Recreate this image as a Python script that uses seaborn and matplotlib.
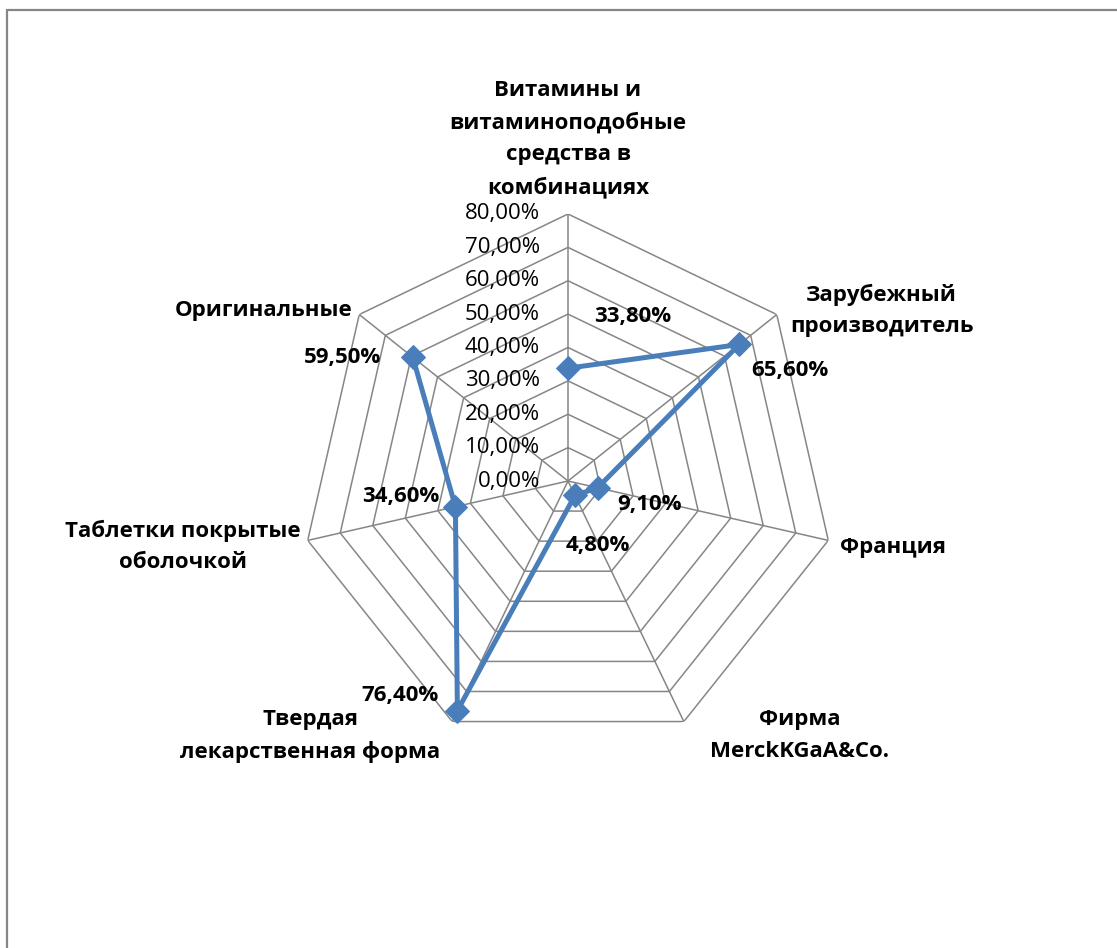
import numpy as np
import pandas as pd
import matplotlib
matplotlib.use("Agg")
import matplotlib.pyplot as plt
from matplotlib.lines import Line2D
import seaborn as sns

# Radar chart data
categories = [
    "Витамины и\nвитаминоподобные\nсредства в\nкомбинациях",
    "Зарубежный\nпроизводитель",
    "Франция",
    "Фирма\nMerckKGaA&Co.",
    "Твердая\nлекарственная форма",
    "Таблетки покрытые\nоболочкой",
    "Оригинальные",
]
values = [33.8, 65.6, 9.1, 4.8, 76.4, 34.6, 59.5]
value_labels = ["33,80%", "65,60%", "9,10%", "4,80%", "76,40%", "34,60%", "59,50%"]
ring_values = [0, 10, 20, 30, 40, 50, 60, 70, 80]
ring_labels = ["0,00%", "10,00%", "20,00%", "30,00%", "40,00%",
               "50,00%", "60,00%", "70,00%", "80,00%"]

sns.set_style("white")
plt.rcParams["font.family"] = ["Open Sans", "DejaVu Sans"]
plt.rcParams["text.color"] = "#000000"

W, H, DPI = 1117, 948, 100
fig = plt.figure(figsize=(W / DPI, H / DPI), dpi=DPI)

# polar axes placed so the 80% ring has radius 267 px around (568, 481)
cx, cy, R = 568, 481, 267
ax = fig.add_axes([(cx - R) / W, (H - cy - R) / H, 2 * R / W, 2 * R / H],
                  projection="polar")
ax.set_theta_offset(np.pi / 2)
ax.set_theta_direction(-1)
ax.set_ylim(0, 80)
ax.grid(False)
ax.set_xticks([])
ax.set_yticks([])
ax.spines["polar"].set_visible(False)
ax.patch.set_alpha(0)

n = len(categories)
angles = np.linspace(0, 2 * np.pi, n, endpoint=False)
closed = np.append(angles, angles[0])

grid_col = "#868686"
for r in ring_values[1:]:
    ax.plot(closed, [r] * (n + 1), color=grid_col, lw=1.1, zorder=1)
for a in angles:
    ax.plot([a, a], [0, 80], color=grid_col, lw=1.1, zorder=1)

# data series
df = pd.DataFrame({"theta": closed, "value": values + [values[0]]})
sns.lineplot(data=df, x="theta", y="value", sort=False, ax=ax,
             color="#4A7EBB", lw=3.6, marker="D", markersize=12,
             markeredgecolor="#4A7EBB", zorder=3)
ax.set_xlabel("")
ax.set_ylabel("")

# radial tick labels along the top spoke
for r, lab in zip(ring_values, ring_labels):
    ax.annotate(lab, xy=(0, r), xytext=(-28, 0), textcoords="offset pixels",
                ha="right", va="center", fontsize=16, color="#000000")

# category labels
cat_offsets = [(0, 16), (105, 4), (65, -7), (116, -14), (-142, -14), (-125, -6), (-96, 4)]
cat_va = ["bottom", "center", "center", "center", "center", "center", "center"]
for a, lab, off, va in zip(angles, categories, cat_offsets, cat_va):
    ax.annotate(lab, xy=(a, 80), xytext=off, textcoords="offset pixels",
                ha="center", va=va, multialignment="center", linespacing=1.65,
                fontsize=16, fontweight="bold", color="#000000",
                annotation_clip=False)

# value labels
val_offsets = [(65, 52), (51, -26), (52, -17), (23, -50), (-57, 15), (-55, 10), (-70, 0)]
for a, v, lab, off in zip(angles, values, value_labels, val_offsets):
    ax.annotate(lab, xy=(a, v), xytext=off, textcoords="offset pixels",
                ha="center", va="center", fontsize=16, fontweight="bold",
                color="#000000", annotation_clip=False, zorder=4)

# chart area border (left and top edges)
x0, y0 = 6.5 / W, 1 - 9.5 / H
fig.add_artist(Line2D([x0, x0], [0, y0], transform=fig.transFigure,
                      color=grid_col, lw=1.6))
fig.add_artist(Line2D([x0, 1], [y0, y0], transform=fig.transFigure,
                      color=grid_col, lw=1.6))

fig.savefig("out.png", dpi=DPI, facecolor="white")
